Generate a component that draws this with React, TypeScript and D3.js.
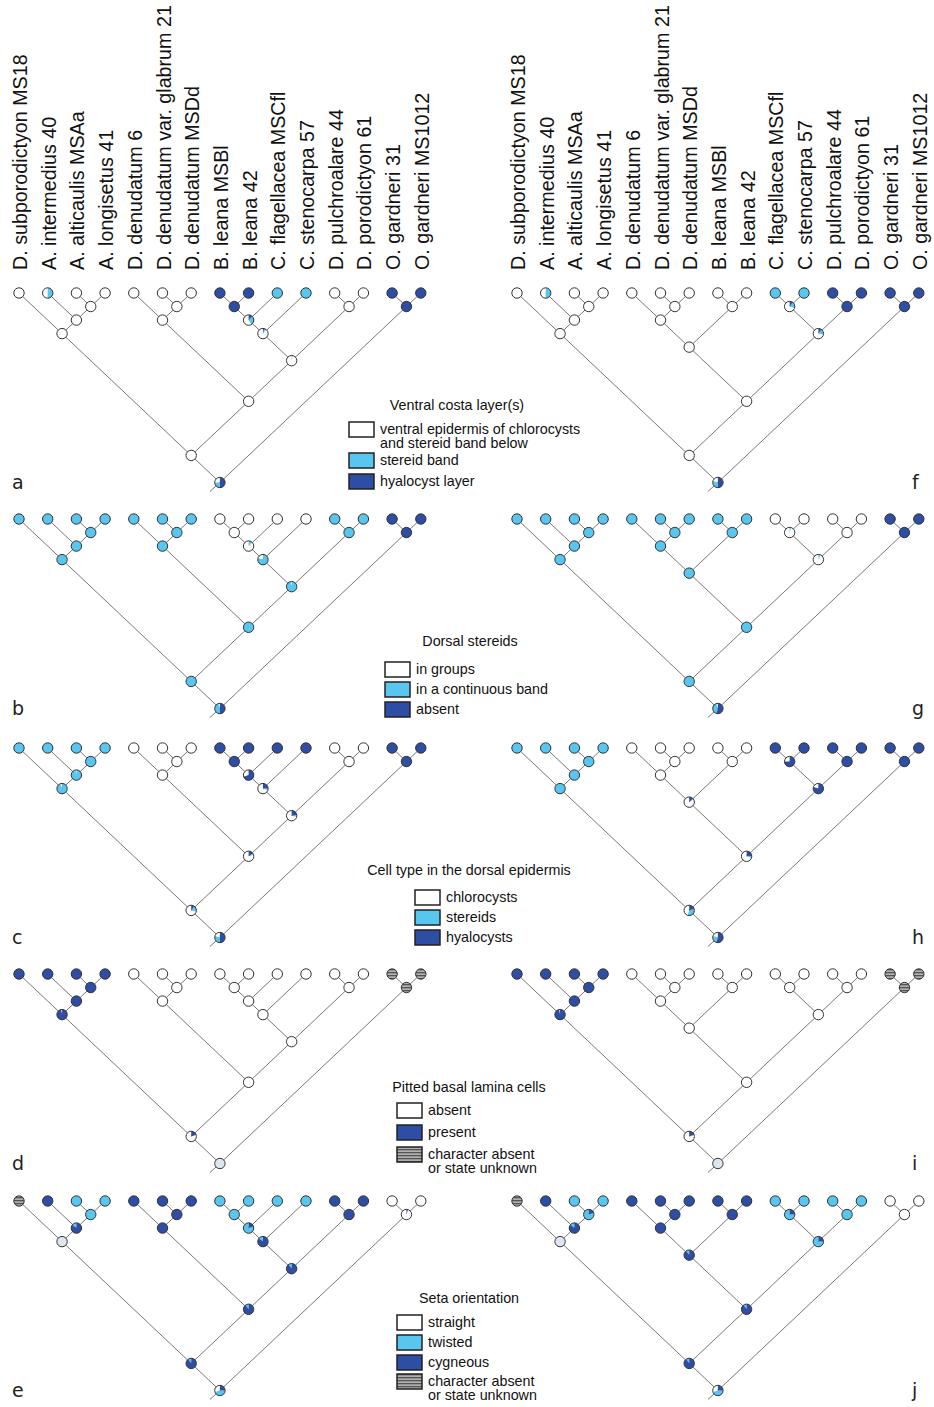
import React from 'react';
import * as d3 from 'd3';

// ---------- DATA ----------
const taxa = [
  'D. subporodictyon MS18', 'A. intermedius 40', 'A. alticaulis MSAa', 'A. longisetus 41',
  'D. denudatum 6', 'D. denudatum var. glabrum 21', 'D. denudatum MSDd', 'B. leana MSBl',
  'B. leana 42', 'C. flagellacea MSCfl', 'C. stenocarpa 57', 'D. pulchroalare 44',
  'D. porodictyon 61', 'O. gardneri 31', 'O. gardneri MS1012',
];

// internal nodes (ids 15..28), children ids
const leftTree: [number, number][] = [
  [2, 3], [1, 15], [0, 16], [5, 6], [4, 18], [7, 8], [20, 9], [21, 10],
  [11, 12], [22, 23], [19, 24], [17, 25], [13, 14], [26, 27],
];
const rightTree: [number, number][] = [
  [2, 3], [1, 15], [0, 16], [5, 6], [4, 18], [7, 8], [19, 20], [9, 10],
  [11, 12], [22, 23], [21, 24], [17, 25], [13, 14], [26, 27],
];

type St = string | number[]; // 'W' | 'L' | 'D' | 'U' | 'P' or [W, L, D, U]

// a: Ventral costa layer(s)
const ventralLeft: St[] = [
  'W', [0.5, 0.5, 0], 'W', 'W', 'W', 'W', 'W', 'D', 'D', 'L', 'L', 'W', 'W', 'D', 'D',
  'W', 'W', 'W', 'W', 'W', 'D', [0.6, 0.28, 0.12], [0.9, 0.06, 0.04], 'W', [0.97, 0.03, 0], 'W', 'W', 'D', [0.25, 0.25, 0.5],
];
const ventralRight: St[] = [
  'W', [0.5, 0.5, 0], 'W', 'W', 'W', 'W', 'W', 'W', 'W', 'L', 'L', 'D', 'D', 'D', 'D',
  'W', 'W', 'W', 'W', 'W', 'W', 'W', [0.7, 0.2, 0.1], 'D', [0.72, 0.18, 0.1], 'W', 'W', 'D', [0.2, 0.3, 0.5],
];
// b: Dorsal stereids
const dorsalLeft: St[] = [
  'L', 'L', 'L', 'L', 'L', 'L', 'L', 'W', 'W', 'W', 'W', 'L', 'L', 'D', 'D',
  'L', 'L', 'L', 'L', 'L', 'W', [0.88, 0.12, 0], [0.2, 0.8, 0], 'L', [0.03, 0.97, 0], 'L', 'L', 'D', [0.05, 0.45, 0.5],
];
const dorsalRight: St[] = [
  'L', 'L', 'L', 'L', 'L', 'L', 'L', 'L', 'L', 'W', 'W', 'W', 'W', 'D', 'D',
  'L', 'L', 'L', 'L', 'L', 'L', 'L', [0.95, 0.05, 0], 'W', [0.93, 0.07, 0], 'L', 'L', 'D', [0.05, 0.4, 0.55],
];
// c: Cell type in the dorsal epidermis
const cellLeft: St[] = [
  'L', 'L', 'L', 'L', 'W', 'W', 'W', 'D', 'D', 'D', 'D', 'W', 'W', 'D', 'D',
  'L', [0.03, 0.97, 0], [0.06, 0.92, 0.02], 'W', 'W', 'D', [0.3, 0, 0.7], [0.7, 0.05, 0.25], 'W', [0.72, 0.05, 0.23],
  [0.8, 0.05, 0.15], [0.72, 0.18, 0.1], 'D', [0.2, 0.3, 0.5],
];
const cellRight: St[] = [
  'L', 'L', 'L', 'L', 'W', 'W', 'W', 'W', 'W', 'D', 'D', 'D', 'D', 'D', 'D',
  'L', 'L', 'L', 'W', 'W', 'W', [0.85, 0.03, 0.12], [0.25, 0, 0.75], 'D', [0.2, 0, 0.8],
  [0.7, 0.07, 0.23], [0.45, 0.35, 0.2], 'D', [0.2, 0.25, 0.55],
];
// d: Pitted basal lamina cells
const pittedLeft: St[] = [
  'D', 'D', 'D', 'D', 'W', 'W', 'W', 'W', 'W', 'W', 'W', 'W', 'W', 'U', 'U',
  'D', 'D', [0.03, 0, 0.97], 'W', 'W', 'W', 'W', 'W', 'W', 'W', 'W', [0.8, 0, 0.2], 'U', 'P',
];
const pittedRight: St[] = [
  'D', 'D', 'D', 'D', 'W', 'W', 'W', 'W', 'W', 'W', 'W', 'W', 'W', 'U', 'U',
  'D', 'D', [0.03, 0, 0.97], 'W', 'W', 'W', 'W', 'W', 'W', 'W', 'W', [0.8, 0, 0.2], 'U', 'P',
];
// e: Seta orientation
const setaLeft: St[] = [
  'U', 'D', 'L', 'L', 'D', 'D', 'D', 'L', 'L', 'L', 'L', 'D', 'D', 'W', 'W',
  'L', [0, 0.15, 0.85], 'P', 'D', 'D', 'L', [0, 0.8, 0.2], [0, 0.15, 0.85], 'D', [0, 0.1, 0.9],
  [0, 0.1, 0.9], [0, 0.1, 0.9], [0.95, 0, 0.05], [0.3, 0.45, 0.25],
];
const setaRight: St[] = [
  'U', 'D', 'L', 'L', 'D', 'D', 'D', 'D', 'D', 'L', 'L', 'L', 'L', 'W', 'W',
  [0, 0.8, 0.2], [0, 0.15, 0.85], 'P', 'D', 'D', 'D', [0, 0.1, 0.9], [0, 0.75, 0.25], 'L', [0, 0.75, 0.25],
  [0, 0.1, 0.9], [0, 0.1, 0.9], 'W', [0.3, 0.45, 0.25],
];

const legendTitles = [
  'Ventral costa layer(s)', 'Dorsal stereids', 'Cell type in the dorsal epidermis',
  'Pitted basal lamina cells', 'Seta orientation',
];
const legendItems: [string, string[]][][] = [
  [['W', ['ventral epidermis of chlorocysts', 'and stereid band below']], ['L', ['stereid band']], ['D', ['hyalocyst layer']]],
  [['W', ['in groups']], ['L', ['in a continuous band']], ['D', ['absent']]],
  [['W', ['chlorocysts']], ['L', ['stereids']], ['D', ['hyalocysts']]],
  [['W', ['absent']], ['D', ['present']], ['U', ['character absent', 'or state unknown']]],
  [['W', ['straight']], ['L', ['twisted']], ['D', ['cygneous']], ['U', ['character absent', 'or state unknown']]],
];
const letters = [['a', 'f'], ['b', 'g'], ['c', 'h'], ['d', 'i'], ['e', 'j']];
const rowStates: [St[], St[]][] = [
  [ventralLeft, ventralRight], [dorsalLeft, dorsalRight], [cellLeft, cellRight],
  [pittedLeft, pittedRight], [setaLeft, setaRight],
];

// ---------- LAYOUT ----------
const W = 934, H = 1407;
const rowLeafY = [293, 519, 748, 974, 1201];
const legendLayout = [
  { tx: 457, ty: 405, bx: 349, by: [422, 453, 474] },
  { tx: 470, ty: 641, bx: 385, by: [662, 682, 702] },
  { tx: 469, ty: 870, bx: 415, by: [890, 910, 930] },
  { tx: 469, ty: 1087, bx: 397, by: [1103, 1125, 1147] },
  { tx: 469, ty: 1298, bx: 397, by: [1315, 1335, 1355, 1374] },
];
const colors: Record<string, string> = {
  W: '#ffffff', L: '#58c6ee', D: '#2e4ea6', U: 'url(#stripes)', P: '#dfe6f2',
};
const stateKeys = ['W', 'L', 'D', 'U'];
const R = 5.2;
const FONT = '"Liberation Sans", Arial, sans-serif';

const xLeft = d3.scaleLinear().domain([0, 14]).range([19, 420.8]);
const xRight = d3.scaleLinear().domain([0, 14]).range([517, 918.8]);
const yDepth = d3.scaleLinear().domain([0, 7]).range([0, 189.5]);

function layout(tree: [number, number][], xs: d3.ScaleLinear<number, number>, leafY: number) {
  const lo: number[] = [], hi: number[] = [];
  for (let i = 0; i < 15; i++) { lo[i] = i; hi[i] = i; }
  tree.forEach(([a, b], k) => {
    const id = 15 + k;
    lo[id] = Math.min(lo[a], lo[b]);
    hi[id] = Math.max(hi[a], hi[b]);
  });
  const pos = lo.map((l, i) => ({ x: xs((l + hi[i]) / 2), y: leafY + yDepth((hi[i] - l) / 2) }));
  const edges = tree.flatMap(([a, b], k) => [[15 + k, a], [15 + k, b]]);
  return { pos, edges };
}

const arc = d3.arc<d3.PieArcDatum<[string, number]>>().innerRadius(0).outerRadius(R);
const pie = d3.pie<[string, number]>().value((d) => d[1]).sort(null).startAngle(0).endAngle(-2 * Math.PI);

function Node({ x, y, s }: { x: number; y: number; s: St }) {
  if (typeof s === 'string') {
    return <circle cx={x} cy={y} r={R} fill={colors[s]} stroke="#333" strokeWidth={1} />;
  }
  const entries = stateKeys.map((k, i) => [k, s[i] || 0] as [string, number]).filter((e) => e[1] > 0);
  return (
    <g transform={`translate(${x},${y})`}>
      {pie(entries).map((a, i) => (
        <path key={i} d={arc(a) || ''} fill={colors[a.data[0]]} />
      ))}
      <circle r={R} fill="none" stroke="#333" strokeWidth={1} />
    </g>
  );
}

function Tree({ tree, xs, leafY, states, letter, letterX }: any) {
  const { pos, edges } = layout(tree, xs, leafY);
  const root = pos[28];
  return (
    <g>
      <line x1={root.x} y1={root.y} x2={root.x - 10} y2={root.y + 9} stroke="#555" strokeWidth={0.8} />
      {edges.map(([p, c]: number[], i: number) => (
        <line key={i} x1={pos[p].x} y1={pos[p].y} x2={pos[c].x} y2={pos[c].y} stroke="#555" strokeWidth={0.8} />
      ))}
      {pos.map((p, i) => <Node key={i} x={p.x} y={p.y} s={states[i]} />)}
      <text x={letterX} y={root.y + 6} fontFamily='"DejaVu Sans", sans-serif' fontSize={19} fill="#222">{letter}</text>
    </g>
  );
}

function Legend({ row }: { row: number }) {
  const L = legendLayout[row];
  return (
    <g fontFamily={FONT} fontSize={14.3} fill="#111">
      <text x={L.tx} y={L.ty} textAnchor="middle" dy="0.35em">{legendTitles[row]}</text>
      {legendItems[row].map(([k, lines], i) => (
        <g key={i}>
          <rect x={L.bx} y={L.by[i]} width={25} height={15} fill={colors[k]} stroke="#222" strokeWidth={1.5} />
          {lines.map((t, j) => (
            <text key={j} x={L.bx + 31} y={L.by[i] + 7 + j * 14} dy="0.35em">{t}</text>
          ))}
        </g>
      ))}
    </g>
  );
}

export default function App() {
  return (
    <svg width={W} height={H} style={{ position: 'absolute', left: 0, top: 0, background: '#fff' }}>
      <defs>
        <pattern id="stripes" width={4} height={3} patternUnits="userSpaceOnUse">
          <rect width={4} height={3} fill="#b0b0b0" />
          <rect width={4} height={1.3} fill="#555" />
        </pattern>
      </defs>
      {[xLeft, xRight].map((xs, side) => (
        <g key={side} fontFamily={FONT} fontSize={19.7} fill="#111">
          {taxa.map((t, i) => (
            <text key={i} transform={`translate(${xs(i) + 8},270) rotate(-90)`}>{t}</text>
          ))}
        </g>
      ))}
      {rowStates.map(([sl, sr], row) => (
        <g key={row}>
          <Tree tree={leftTree} xs={xLeft} leafY={rowLeafY[row]} states={sl} letter={letters[row][0]} letterX={12} />
          <Tree tree={rightTree} xs={xRight} leafY={rowLeafY[row]} states={sr} letter={letters[row][1]} letterX={912} />
          <Legend row={row} />
        </g>
      ))}
    </svg>
  );
}
